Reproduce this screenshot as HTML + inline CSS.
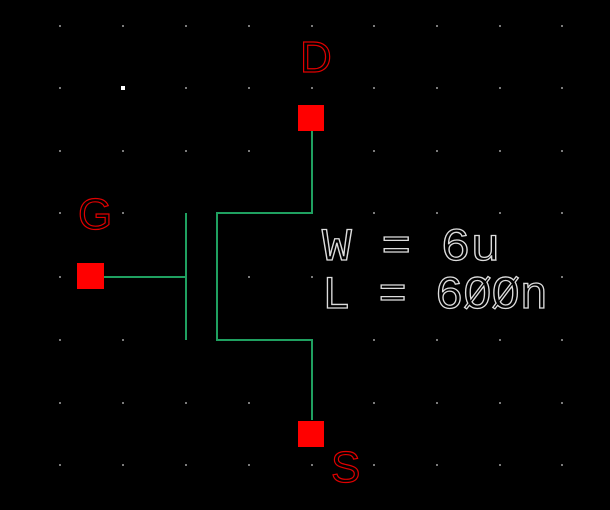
<!DOCTYPE html>
<html><head><style>html,body{margin:0;padding:0;background:#000;width:610px;height:510px;overflow:hidden}</style></head>
<body>
<svg width="610" height="510" xmlns="http://www.w3.org/2000/svg">
<rect width="610" height="510" fill="#000"/>
<g stroke="#1fa060" stroke-width="2" fill="none">
<polyline points="312,131 312,213 217,213 217,340 312,340 312,420"/>
<line x1="186" y1="213" x2="186" y2="340"/>
<line x1="104" y1="277" x2="186" y2="277"/>
</g>
<g fill="#ff0000">
<rect x="298" y="105" width="26" height="26"/>
<rect x="298" y="421" width="26" height="26"/>
<rect x="77" y="263" width="27" height="26"/>
</g>
<g font-family="Liberation Sans, sans-serif" fill="none" stroke="#e00000" stroke-width="1.2" font-size="44">
<text x="300" y="72">D</text>
<text x="78" y="229">G</text>
<text x="331" y="482">S</text>
</g>
<g font-family="Liberation Mono, monospace" fill="none" stroke="#ddd" stroke-width="1.3" font-size="46">
<text x="322" y="260" textLength="178" lengthAdjust="spacingAndGlyphs">W = 6u</text>
<text x="322" y="308" textLength="226" lengthAdjust="spacingAndGlyphs">L = 6ØØn</text>
</g>
<rect x="121" y="86" width="4" height="4" fill="#fff"/>
<g fill="#7a7a7a">
<rect x="59" y="87" width="2" height="2"/><rect x="185" y="87" width="2" height="2"/><rect x="248" y="87" width="2" height="2"/><rect x="311" y="87" width="2" height="2"/><rect x="373" y="87" width="2" height="2"/><rect x="436" y="87" width="2" height="2"/><rect x="499" y="87" width="2" height="2"/><rect x="561" y="87" width="2" height="2"/>
<rect x="59" y="150" width="2" height="2"/><rect x="122" y="150" width="2" height="2"/><rect x="185" y="150" width="2" height="2"/><rect x="248" y="150" width="2" height="2"/><rect x="373" y="150" width="2" height="2"/><rect x="436" y="150" width="2" height="2"/><rect x="499" y="150" width="2" height="2"/><rect x="561" y="150" width="2" height="2"/>
<rect x="59" y="212" width="2" height="2"/><rect x="122" y="212" width="2" height="2"/><rect x="373" y="212" width="2" height="2"/><rect x="436" y="212" width="2" height="2"/><rect x="499" y="212" width="2" height="2"/><rect x="561" y="212" width="2" height="2"/>
<rect x="59" y="276" width="2" height="2"/><rect x="248" y="276" width="2" height="2"/><rect x="311" y="276" width="2" height="2"/><rect x="561" y="276" width="2" height="2"/>
<rect x="59" y="339" width="2" height="2"/><rect x="122" y="339" width="2" height="2"/><rect x="373" y="339" width="2" height="2"/><rect x="436" y="339" width="2" height="2"/><rect x="499" y="339" width="2" height="2"/><rect x="561" y="339" width="2" height="2"/>
<rect x="59" y="402" width="2" height="2"/><rect x="122" y="402" width="2" height="2"/><rect x="185" y="402" width="2" height="2"/><rect x="248" y="402" width="2" height="2"/><rect x="373" y="402" width="2" height="2"/><rect x="436" y="402" width="2" height="2"/><rect x="499" y="402" width="2" height="2"/><rect x="561" y="402" width="2" height="2"/>
<rect x="59" y="464" width="2" height="2"/><rect x="122" y="464" width="2" height="2"/><rect x="185" y="464" width="2" height="2"/><rect x="248" y="464" width="2" height="2"/><rect x="311" y="464" width="2" height="2"/><rect x="373" y="464" width="2" height="2"/><rect x="436" y="464" width="2" height="2"/><rect x="499" y="464" width="2" height="2"/><rect x="561" y="464" width="2" height="2"/>
<rect x="59" y="25" width="2" height="2"/><rect x="122" y="25" width="2" height="2"/><rect x="185" y="25" width="2" height="2"/><rect x="248" y="25" width="2" height="2"/><rect x="311" y="25" width="2" height="2"/><rect x="373" y="25" width="2" height="2"/><rect x="436" y="25" width="2" height="2"/><rect x="499" y="25" width="2" height="2"/><rect x="561" y="25" width="2" height="2"/>
</g>
</svg>
</body></html>
